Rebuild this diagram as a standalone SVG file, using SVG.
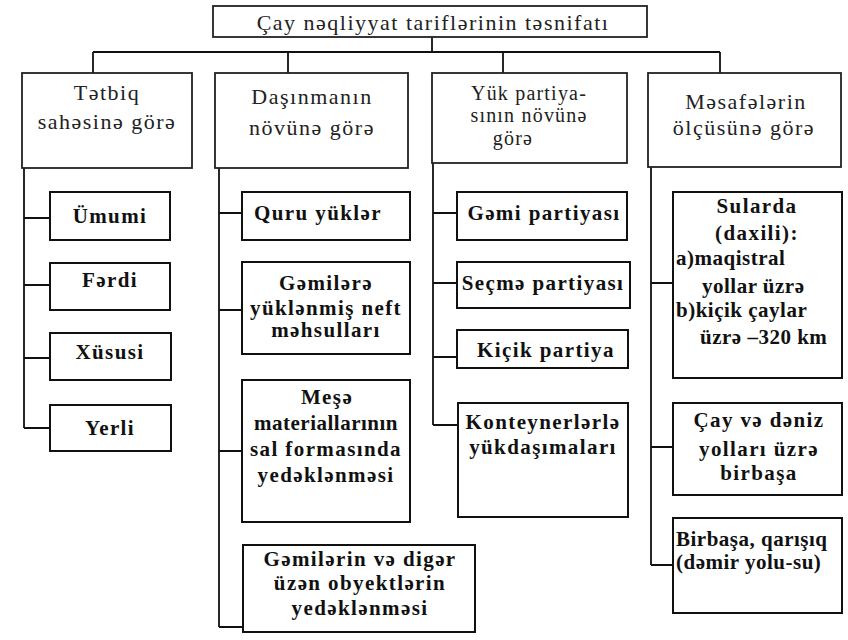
<svg xmlns="http://www.w3.org/2000/svg" width="848" height="640" viewBox="0 0 848 640">
<style>
.bg{fill:#ffffff}
.box{fill:#ffffff;stroke:#111;stroke-width:2}
.hbox{fill:#ffffff;stroke:#222;stroke-width:1.8}
.ln{fill:none;stroke:#111;stroke-width:1.8}
.t{font-family:"Liberation Serif","Times New Roman",serif;font-size:21px;font-weight:bold;fill:#111;letter-spacing:1.4px}
.n{letter-spacing:0.5px}
.h{font-family:"Liberation Serif","Times New Roman",serif;font-size:22px;fill:#222;letter-spacing:1.5px}
.s{font-size:20px;letter-spacing:1.2px}
.c{text-anchor:middle}
</style>
<rect class="bg" x="0" y="0" width="848" height="640"/>
<g id="connectors">
<path class="ln" d="M432 37V52M93 52H720M93 52V73M288 52V73M503 52V73M720 52V73"/>
<path class="ln" d="M24 168V428M24 218H50M24 285H50M24 358H50M24 428H50"/>
<path class="ln" d="M219 168V627M219 213H242M219 310H242M219 451H242M219 627H243"/>
<path class="ln" d="M433 163V425M433 213H457M433 283H457M433 357H457M433 425H458"/>
<path class="ln" d="M651 167V565M651 283H673M651 447H673M651 565H673"/>
</g>
<g id="title">
<rect class="hbox" x="213" y="6" width="434" height="31"/>
<text class="h c" x="433" y="30">Çay nəqliyyat tariflərinin təsnifatı</text>
</g>
<g id="h1">
<rect class="hbox" x="22" y="73" width="170" height="95"/>
<text class="h c" x="107" y="100">Tətbiq</text>
<text class="h c" x="107" y="129">sahəsinə görə</text>
</g>
<g id="h2">
<rect class="hbox" x="215" y="73" width="193" height="95"/>
<text class="h c" x="312" y="104">Daşınmanın</text>
<text class="h c" x="312" y="135">növünə görə</text>
</g>
<g id="h3">
<rect class="hbox" x="432" y="73" width="195" height="90"/>
<text class="h s c" x="529" y="100">Yük partiya-</text>
<text class="h s c" x="529" y="122">sının növünə</text>
<text class="h s c" x="513" y="145">görə</text>
</g>
<g id="h4">
<rect class="hbox" x="648" y="73" width="193" height="94"/>
<text class="h c" x="746" y="109">Məsafələrin</text>
<text class="h c" x="744" y="135">ölçüsünə görə</text>
</g>
<g id="c1a"><rect class="box" x="50" y="192" width="120" height="48"/><text class="t c" x="110" y="223">Ümumi</text></g>
<g id="c1b"><rect class="box" x="50" y="263" width="120" height="47"/><text class="t c" x="110" y="287">Fərdi</text></g>
<g id="c1c"><rect class="box" x="50" y="333" width="121" height="47"/><text class="t c" x="110" y="359">Xüsusi</text></g>
<g id="c1d"><rect class="box" x="50" y="405" width="121" height="46"/><text class="t c" x="110" y="435">Yerli</text></g>
<g id="c2a"><rect class="box" x="242" y="192" width="168" height="48"/><text class="t c" x="318" y="220">Quru yüklər</text></g>
<g id="c2b"><rect class="box" x="242" y="262" width="168" height="92"/>
<text class="t c" x="326" y="290">Gəmilərə</text>
<text class="t c" x="326" y="315">yüklənmiş neft</text>
<text class="t c" x="326" y="337">məhsulları</text></g>
<g id="c2c"><rect class="box" x="242" y="380" width="168" height="142"/>
<text class="t c" x="327" y="404">Meşə</text>
<text class="t n c" x="326" y="430">materiallarının</text>
<text class="t c" x="326" y="456">sal formasında</text>
<text class="t c" x="326" y="482">yedəklənməsi</text></g>
<g id="c2d"><rect class="box" x="243" y="545" width="232" height="87"/>
<text class="t c" x="360" y="566">Gəmilərin və digər</text>
<text class="t c" x="360" y="590">üzən obyektlərin</text>
<text class="t c" x="360" y="615">yedəklənməsi</text></g>
<g id="c3a"><rect class="box" x="457" y="192" width="170" height="48"/><text class="t c" x="544" y="220">Gəmi partiyası</text></g>
<g id="c3b"><rect class="box" x="457" y="262" width="173" height="46"/><text class="t c" x="543" y="290">Seçmə partiyası</text></g>
<g id="c3c"><rect class="box" x="457" y="330" width="171" height="38"/><text class="t c" x="546" y="357">Kiçik partiya</text></g>
<g id="c3d"><rect class="box" x="458" y="403" width="170" height="114"/>
<text class="t c" x="543" y="429">Konteynerlərlə</text>
<text class="t c" x="543" y="454">yükdaşımaları</text></g>
<g id="c4a"><rect class="box" x="673" y="192" width="169" height="186"/>
<text class="t c" x="757" y="213">Sularda</text>
<text class="t c" x="757" y="240">(daxili):</text>
<text class="t n" x="676" y="265">a)maqistral</text>
<text class="t n" x="702" y="293">yollar üzrə</text>
<text class="t n" x="676" y="317">b)kiçik çaylar</text>
<text class="t n" x="700" y="344">üzrə –320 km</text></g>
<g id="c4b"><rect class="box" x="673" y="403" width="169" height="92"/>
<text class="t c" x="759" y="427">Çay və dəniz</text>
<text class="t c" x="759" y="456">yolları üzrə</text>
<text class="t c" x="759" y="480">birbaşa</text></g>
<g id="c4c"><rect class="box" x="673" y="518" width="169" height="95"/>
<text class="t n" x="676" y="546">Birbaşa, qarışıq</text>
<text class="t n" x="676" y="569">(dəmir yolu-su)</text></g>
</svg>
